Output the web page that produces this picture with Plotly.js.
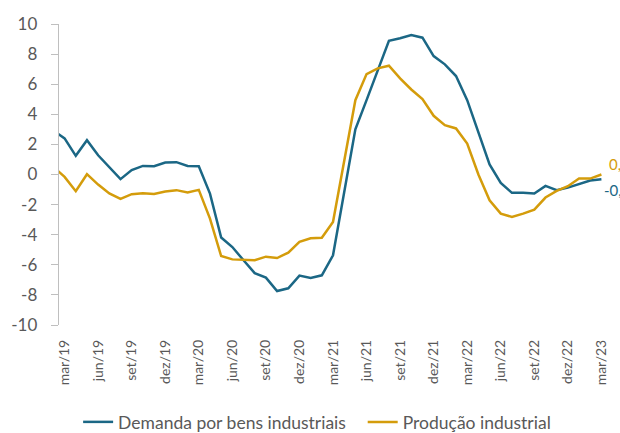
<!DOCTYPE html>
<html>
<head>
<meta charset="utf-8">
<script src="https://cdn.plot.ly/plotly-3.0.1.min.js"></script>
<style>
  body { margin: 0; background: #ffffff; }
  #chart { width: 620px; height: 433px; }
</style>
</head>
<body>
<div id="chart"></div>
<script>
// Months (fev/19 is only partly visible, clipped at the left edge)
const months = [
  'fev/19','mar/19','abr/19','mai/19','jun/19','jul/19','ago/19','set/19','out/19','nov/19','dez/19',
  'jan/20','fev/20','mar/20','abr/20','mai/20','jun/20','jul/20','ago/20','set/20','out/20','nov/20','dez/20',
  'jan/21','fev/21','mar/21','abr/21','mai/21','jun/21','jul/21','ago/21','set/21','out/21','nov/21','dez/21',
  'jan/22','fev/22','mar/22','abr/22','mai/22','jun/22','jul/22','ago/22','set/22','out/22','nov/22','dez/22',
  'jan/23','fev/23','mar/23'
];

const demanda = [
  2.9, 2.4, 1.24, 2.28, 1.28, 0.5, -0.31, 0.29, 0.57, 0.55, 0.8,
  0.82, 0.57, 0.55, -1.27, -4.19, -4.82, -5.7, -6.55, -6.85, -7.74, -7.56, -6.72,
  -6.88, -6.7, -5.37, -1.3, 3.0, 4.94, 6.94, 8.89, 9.05, 9.27, 9.09, 7.87,
  7.32, 6.54, 4.94, 2.73, 0.67, -0.56, -1.22, -1.22, -1.26, -0.76, -1.04, -0.87,
  -0.65, -0.4, -0.31
];

const producao = [
  0.5, -0.16, -1.11, 0.02, -0.67, -1.26, -1.62, -1.31, -1.24, -1.29, -1.13,
  -1.04, -1.2, -1.02, -2.93, -5.42, -5.64, -5.66, -5.7, -5.46, -5.55, -5.19, -4.48,
  -4.24, -4.2, -3.15, 1.0, 4.94, 6.67, 7.05, 7.23, 6.39, 5.65, 5.01, 3.9,
  3.28, 3.06, 2.06, 0.0, -1.71, -2.6, -2.82, -2.6, -2.33, -1.53, -1.09, -0.78,
  -0.27, -0.27, 0.0
];

const xTickLabels = ['mar/19','jun/19','set/19','dez/19','mar/20','jun/20','set/20','dez/20',
  'mar/21','jun/21','set/21','dez/21','mar/22','jun/22','set/22','dez/22','mar/23'];
const yTickVals = [-10, -8, -6, -4, -2, 0, 2, 4, 6, 8, 10];
const yTickText = yTickVals.map(v => String(v));

const seriesNames = ['Demanda por bens industriais', 'Produção industrial'];
const colors = ['#1b6785', '#d49c0b'];

const fmt = v => v.toFixed(1).replace('.', ',');
const last = months.length - 1;

// boundary ticks every 3 months (between categories), on the zero line axis
const boundaryTicks = [];
for (let i = 1; i < months.length; i++) {
  if (xTickLabels.indexOf(months[i]) > 0) boundaryTicks.push(i - 0.5);
}

const FONT = 'Lato, "Open Sans", sans-serif';

const traces = [
  {
    x: months, y: demanda, name: seriesNames[0], type: 'scatter', mode: 'lines',
    line: { color: colors[0], width: 2.5 }, hoverinfo: 'x+y', legend: 'legend'
  },
  {
    x: months, y: producao, name: seriesNames[1], type: 'scatter', mode: 'lines',
    line: { color: colors[1], width: 2.5 }, hoverinfo: 'x+y', legend: 'legend2'
  }
];

const legendBase = {
  orientation: 'h', xref: 'container', yref: 'container',
  xanchor: 'left', y: 0.0254, yanchor: 'middle',
  font: { size: 17.5, color: '#595959', family: FONT },
  itemwidth: 30, bgcolor: 'rgba(0,0,0,0)'
};

const layout = {
  width: 620, height: 433,
  margin: { l: 59, r: 13, t: 24, b: 108, autoexpand: false },
  paper_bgcolor: '#ffffff', plot_bgcolor: '#ffffff',
  font: { family: FONT, color: '#595959' },
  showlegend: true,
  legend: Object.assign({}, legendBase, { x: 0.126 }),
  legend2: Object.assign({}, legendBase, { x: 0.585 }),
  xaxis: {
    type: 'category', range: [0.5, months.length - 0.5],
    tickmode: 'array', tickvals: xTickLabels, ticktext: xTickLabels,
    tickangle: -90, ticks: '', showline: false, showgrid: false, zeroline: false,
    tickfont: { size: 14, color: '#595959', family: FONT },
    ticklabelstandoff: 11
  },
  xaxis2: {
    type: 'linear', overlaying: 'x', anchor: 'free', position: 0.5,
    range: [0.5, months.length - 0.5],
    tickmode: 'array', tickvals: boundaryTicks, showticklabels: false,
    ticks: 'outside', ticklen: 6, tickwidth: 1, tickcolor: '#bfbfbf',
    showline: true, linecolor: '#bfbfbf', linewidth: 1.3,
    showgrid: false, zeroline: false, layer: 'below traces'
  },
  yaxis: {
    range: [-10, 10], tickmode: 'array', tickvals: yTickVals, ticktext: yTickText,
    ticks: 'outside', ticklen: 7, tickwidth: 1, tickcolor: '#bfbfbf',
    showline: true, linecolor: '#bfbfbf', linewidth: 1.3,
    showgrid: false, zeroline: false, layer: 'below traces',
    tickfont: { size: 17, color: '#595959', family: FONT },
    ticklabelstandoff: 10
  },
  annotations: [
    { x: months[last], y: producao[last], xref: 'x', yref: 'y', text: fmt(producao[last]),
      showarrow: false, xanchor: 'left', yanchor: 'middle', xshift: 6, yshift: 11,
      font: { size: 15, color: colors[1], family: FONT } },
    { x: months[last], y: demanda[last], xref: 'x', yref: 'y', text: fmt(demanda[last]),
      showarrow: false, xanchor: 'left', yanchor: 'middle', xshift: 1, yshift: -11,
      font: { size: 15, color: colors[0], family: FONT } }
  ]
};

Plotly.newPlot('chart', traces, layout, { staticPlot: true, displayModeBar: false });
</script>
</body>
</html>
